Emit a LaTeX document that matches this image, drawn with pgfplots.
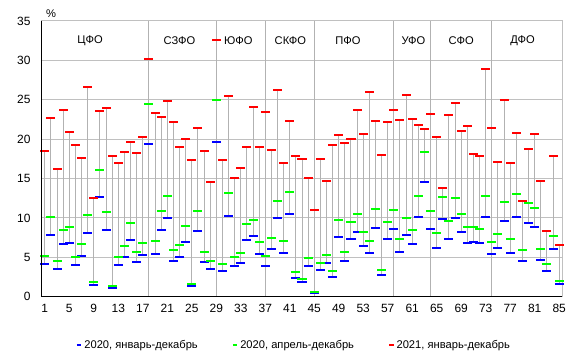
\documentclass[border=0pt]{standalone}
\usepackage{fontspec}
\setmainfont{Liberation Sans}
\usepackage{pgfplots}
\usepackage{pgfplotstable}
\pgfplotsset{compat=1.18}
\definecolor{gridgray}{RGB}{192,192,192}
\definecolor{hlgray}{RGB}{178,178,178}
\pgfplotstableread{
x b g r
1 4.2 5.2 18.5
2 7.85 10.1 22.7
3 3.5 4.5 16.2
4 6.7 8.5 23.7
5 6.8 8.9 20.9
6 4.0 5.05 19.3
7 5.2 6.7 17.6
8 8.1 10.4 26.65
9 1.5 1.9 12.55
10 12.7 16.1 23.6
11 8.5 10.8 24.0
12 1.1 1.4 17.9
13 4.0 5.05 17.0
14 5.05 6.45 18.4
15 7.2 9.4 19.7
16 4.4 5.7 18.3
17 5.3 6.8 20.3
18 19.4 24.5 30.2
19 5.4 7.1 23.3
20 8.5 10.9 22.8
21 10.0 12.8 24.9
22 4.55 5.9 22.2
23 5.05 6.6 19.0
24 7.0 9.0 20.0
25 1.3 1.6 17.3
26 8.35 10.9 21.4
27 4.4 5.7 18.5
28 3.5 4.5 14.5
29 19.7 25.0 32.6
30 3.2 4.2 17.3
31 10.2 13.2 25.5
32 3.9 5.05 15.1
33 4.3 5.56 16.36
34 7.2 9.25 19.0
35 7.7 9.75 24.1
36 5.4 6.96 19.0
37 3.9 5.2 23.5
38 6.07 7.5 18.65
39 10.0 12.2 26.3
40 5.56 7.1 17.0
41 10.5 13.3 22.3
42 2.4 3.15 17.9
43 1.9 2.26 17.5
44 3.9 4.9 15.1
45 0.48 0.6 11.07
46 3.4 4.3 17.5
47 4.3 5.3 14.7
48 2.5 3.3 19.2
49 7.6 9.75 20.55
50 4.55 5.7 19.5
51 7.34 9.5 20.05
52 8.2 10.5 23.7
53 6.45 8.23 20.7
54 5.56 7.1 26.0
55 8.74 11.15 22.3
56 2.76 3.4 18.0
57 7.34 9.5 22.2
58 8.6 11.0 23.7
59 5.7 7.34 22.46
60 7.85 10.0 25.6
61 6.7 8.5 22.6
62 10.1 12.8 21.8
63 14.5 18.4 21.3
64 8.6 10.9 23.2
65 6.2 8.1 20.3
66 9.9 12.7 13.8
67 7.34 9.6 23.1
68 10.0 12.55 24.6
69 8.23 10.5 21.06
70 6.8 8.9 21.7
71 7.0 8.9 18.1
72 6.8 8.6 17.9
73 10.1 12.8 28.94
74 5.4 7.0 21.4
75 6.2 8.0 17.1
76 9.6 12.04 25.0
77 5.56 7.34 17.0
78 10.1 13.06 20.8
79 4.55 5.9 12.17
80 9.37 11.9 18.78
81 8.86 11.28 20.7
82 4.67 6.07 14.7
83 3.27 4.2 8.36
84 6.07 7.72 17.9
85 1.62 2.0 6.58
}\datatable
\pgfplotsset{
  dashmark/.style={forget plot, draw=none, mark=none,
    error bars/.cd, x dir=both, x fixed=0.735, error mark=none,
    error bar style={draw=#1, solid, line width=2bp}},
}
\begin{document}
\begin{tikzpicture}
\useasboundingbox (-41.7bp,-60.3bp) rectangle (534.3bp,296.7bp);
\begin{axis}[
  at={(0,0)}, anchor=south west,
  scale only axis, width=520.6bp, height=275.7bp,
  xmin=0.5, xmax=85.5, ymin=0, ymax=35,
  xtick={1,5,...,85}, ytick={0,5,...,35},
  ymajorgrids, grid style={gridgray, line width=1bp},
  major tick length=0,
  axis line style={gridgray, line width=1bp},
  tick label style={font=\fontsize{12}{14}\selectfont},
  /pgf/number format/assume math mode=true,
  yticklabel style={xshift=-7.7bp},
  xticklabel style={yshift=-4.4bp},
  clip=false,
  legend columns=3,
  legend cell align=left,
  legend style={at={(0.4845,-0.175)}, anchor=center, draw=none, fill=none,
    font=\fontsize{11.2}{13}\selectfont,
    /tikz/every even column/.append style={column sep=32bp}},
]
% separators between federal districts
\addplot[forget plot, ycomb, draw=hlgray, line width=1bp, mark=none]
  coordinates {(18,35) (29,35) (37,35) (45,35) (58,35) (64,35) (74,35)};
% high-low lines
\addplot[forget plot, draw=none, mark=none,
  error bars/.cd, y dir=plus, y explicit, error mark=none,
  error bar style={draw=hlgray, solid, line width=1bp}]
  table[x=x, y=b, y error plus expr=\thisrow{r}-\thisrow{b}] {\datatable};
% dash markers
\addplot[dashmark=blue] table[x=x, y=b] {\datatable};
\addplot[dashmark=green] table[x=x, y=g] {\datatable};
\addplot[dashmark=red] table[x=x, y=r] {\datatable};
\addlegendimage{legend image code/.code={\draw[blue, line width=2bp] (0bp,0bp) -- (4.5bp,0bp);}}
\addlegendentry{2020, январь-декабрь}
\addlegendimage{legend image code/.code={\draw[green, line width=2bp] (0bp,0bp) -- (4.5bp,0bp);}}
\addlegendentry{2020, апрель-декабрь}
\addlegendimage{legend image code/.code={\draw[red, line width=2bp] (0bp,0bp) -- (4.5bp,0bp);}}
\addlegendentry{2021, январь-декабрь}
% left and bottom axis lines
\draw[black, line width=1bp] (rel axis cs:0,1) -- (rel axis cs:0,0) -- (rel axis cs:1,0);
% district labels
\begin{scope}[every node/.style={font=\fontsize{11.2}{13}\selectfont}]
\node at (axis cs:8.4,32.5) {ЦФО};
\node at (axis cs:23.0,32.5) {СЗФО};
\node at (axis cs:32.6,32.5) {ЮФО};
\node at (axis cs:41.1,32.5) {СКФО};
\node at (axis cs:50.5,32.5) {ПФО};
\node at (axis cs:61.2,32.5) {УФО};
\node at (axis cs:69.0,32.5) {СФО};
\node at (axis cs:79.0,32.5) {ДФО};
\node at (rel axis cs:0,1) [xshift=9.3bp, yshift=7bp] {\%};
\end{scope}
\end{axis}
\end{tikzpicture}
\end{document}
